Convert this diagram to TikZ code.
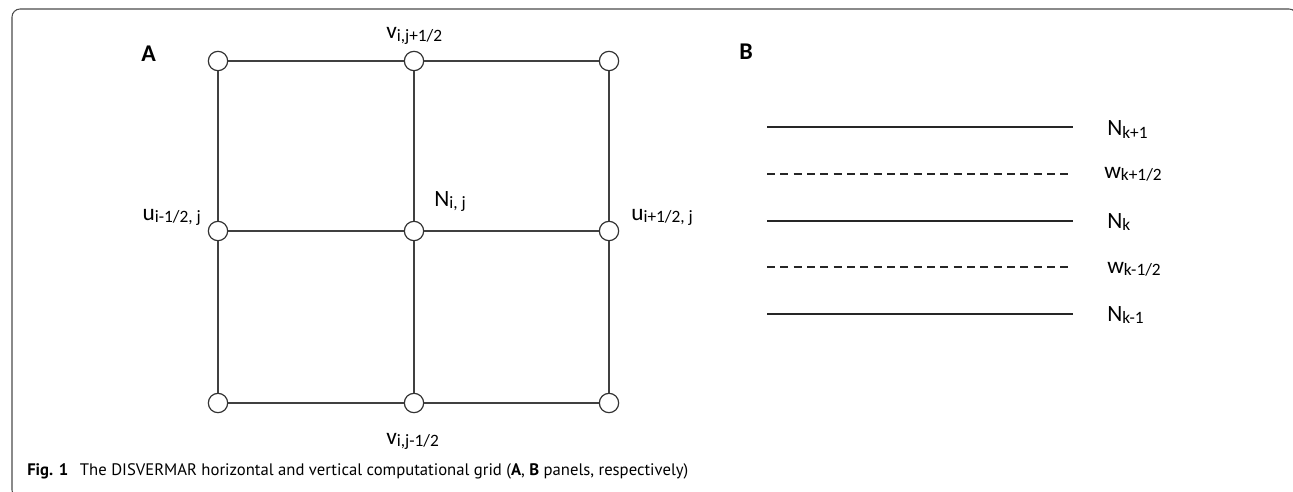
\documentclass[tikz,border=0pt]{standalone}
\usepackage{fontspec}
\setmainfont{Carlito}
\newfontfamily\capfont{PT Sans}
\usetikzlibrary{positioning}

% main letter with a lowered, smaller index
\newcommand{\gridlbl}[2]{{\fontsize{17.5}{20}\selectfont #1}\raisebox{-1.8pt}{\fontsize{13}{15}\selectfont #2}}

\begin{document}
\begin{tikzpicture}[x=0.75pt, y=-0.75pt,
    gridpt/.style={circle, draw=black!80, fill=white, line width=0.9pt, minimum size=14.5pt, inner sep=0pt},
    gridline/.style={draw=black!75, line width=1pt},
    level/.style={draw=black!85, line width=1pt},
    halflevel/.style={level, dash pattern=on 6pt off 4pt},
    panel/.style={inner sep=0pt, anchor=base west, font=\fontsize{18}{20}\selectfont\bfseries},
    lbl/.style={inner sep=0pt, anchor=base west}]
    \useasboundingbox (0,0) rectangle (1293,492);
    % Frame
    \draw[black!70, line width=0.8pt, rounded corners=6pt] (12,9) rectangle (1297,498);

    % Panel A: grid points
    \node (nw) [gridpt] at (218,61) {};
    \node (n)  [gridpt] at (414,61) {};
    \node (ne) [gridpt] at (609,61) {};
    \node (w)  [gridpt] at (218,231) {};
    \node (c)  [gridpt] at (414,231) {};
    \node (e)  [gridpt] at (609,231) {};
    \node (sw) [gridpt] at (218,403) {};
    \node (s)  [gridpt] at (414,403) {};
    \node (se) [gridpt] at (609,403) {};

    % Panel A: cell edges
    \draw[gridline] (nw) -- (n);
    \draw[gridline] (n) -- (ne);
    \draw[gridline] (w) -- (c);
    \draw[gridline] (c) -- (e);
    \draw[gridline] (sw) -- (s);
    \draw[gridline] (s) -- (se);
    \draw[gridline] (nw) -- (w);
    \draw[gridline] (w) -- (sw);
    \draw[gridline] (n) -- (c);
    \draw[gridline] (c) -- (s);
    \draw[gridline] (ne) -- (e);
    \draw[gridline] (e) -- (se);

    % Panel A: labels
    \node (labA) [panel] at (141,62) {A};
    \node (vtop) [lbl] at (386,39) {\gridlbl{v}{i,j+1/2}};
    \node (vbot) [lbl] at (386,444) {\gridlbl{v}{i,j-1/2}};
    \node (nij)  [lbl] at (434,206) {\gridlbl{N}{i, j}};
    \node (uleft) [lbl, anchor=base east] at (201,220) {\gridlbl{u}{i-1/2, j}};
    \node (uright) [lbl] at (631,220) {\gridlbl{u}{i+1/2, j}};

    % Panel B: vertical levels
    \node (labB) [panel] at (739,60) {B};
    \draw[level] (767,127) -- (1073,127);
    \draw[halflevel] (767,174) -- (1073,174);
    \draw[level] (767,221) -- (1073,221);
    \draw[halflevel] (767,267) -- (1073,267);
    \draw[level] (767,314) -- (1073,314);
    \node (nkp) [lbl] at (1107,136) {\gridlbl{N}{k+1}};
    \node (wkp) [lbl] at (1104,178) {\gridlbl{w}{k+1/2}};
    \node (nk)  [lbl] at (1107,228) {\gridlbl{N}{k}};
    \node (wkm) [lbl] at (1107,273) {\gridlbl{w}{k-1/2}};
    \node (nkm) [lbl] at (1107,321) {\gridlbl{N}{k-1}};

    % Caption
    \node (caption) [lbl] at (27,475) {\capfont\fontsize{12.5}{15}\selectfont\textbf{Fig. 1}\hspace{0.7em}The DISVERMAR horizontal and vertical computational grid (\textbf{A}, \textbf{B} panels, respectively)};
\end{tikzpicture}
\end{document}
